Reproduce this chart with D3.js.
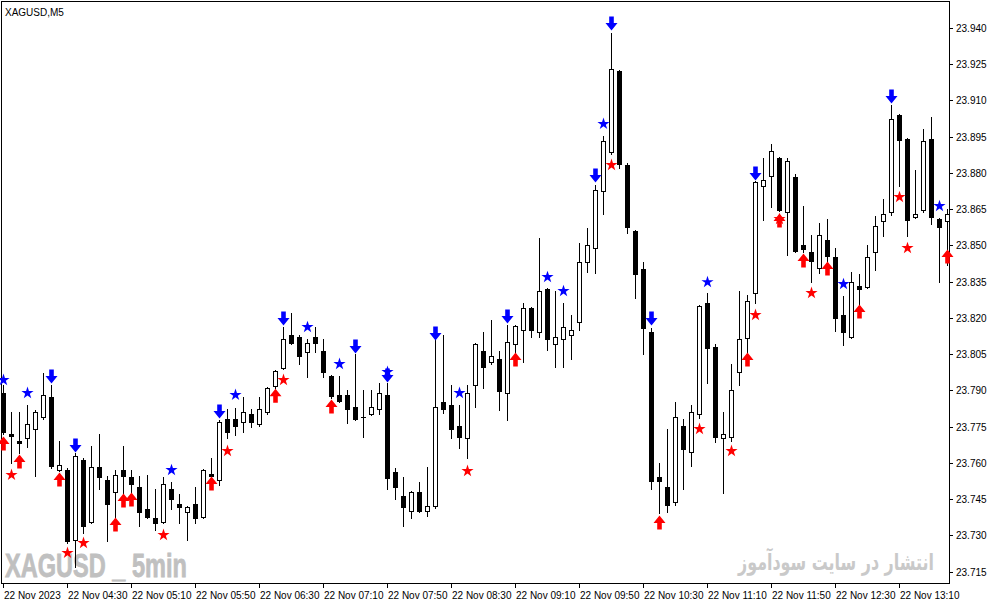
<!DOCTYPE html>
<html>
<head>
<meta charset="utf-8">
<script src="https://cdn.jsdelivr.net/npm/d3@7"></script>
<style>
  html, body { margin: 0; padding: 0; background: #fff; }
  svg { display: block; }
  text { font-family: "Liberation Sans", Arial, sans-serif; }
</style>
</head>
<body>
<div id="chart"></div>
<script>
// XAGUSD M5, 22 Nov 2023, one entry per 5-minute bar
const openP = [23.7889,23.7719,23.7690,23.7703,23.7740,23.7790,23.7872,23.7570,23.7570,23.7280,
  23.7612,23.7355,23.7583,23.7529,23.7479,23.7570,23.7541,23.7500,23.7409,23.7371,
  23.7355,23.7492,23.7429,23.7396,23.7429,23.7376,23.7554,23.7529,23.7781,23.7781,
  23.7769,23.7802,23.7761,23.7810,23.7918,23.7993,23.8129,23.8121,23.8059,23.8121,
  23.8063,23.7959,23.7881,23.7881,23.7831,23.7790,23.7802,23.7823,23.7881,23.7562,
  23.7463,23.7400,23.7479,23.7400,23.7421,23.7852,23.7839,23.7752,23.7703,23.7922,
  23.8063,23.8017,23.8030,23.7889,23.8092,23.8150,23.8241,23.8142,23.8320,23.8092,
  23.8113,23.8129,23.8183,23.8431,23.8489,23.8725,23.8887,23.9222,23.8833,23.8560,
  23.8402,23.8142,23.7541,23.7500,23.7438,23.7752,23.7645,23.7802,23.8262,23.8079,
  23.7703,23.7707,23.7976,23.8117,23.8303,23.8746,23.8787,23.8862,23.8638,23.8783,
  23.8502,23.8473,23.8406,23.8522,23.8452,23.8212,23.8121,23.8332,23.8328,23.8473,
  23.8601,23.8638,23.9040,23.8941,23.8618,23.8647,23.8941,23.8609,23.8601]
const highP = [23.7922,23.7810,23.7810,23.7839,23.7818,23.7972,23.7922,23.7690,23.7578,23.7641,
  23.7620,23.7670,23.7719,23.7545,23.7570,23.7670,23.7570,23.7545,23.7550,23.7492,
  23.7541,23.7520,23.7471,23.7420,23.7500,23.7574,23.7620,23.7777,23.7823,23.7827,
  23.7872,23.7823,23.7872,23.7914,23.7984,23.8162,23.8220,23.8129,23.8113,23.8162,
  23.8113,23.7963,23.7959,23.7901,23.8050,23.7901,23.7901,23.7930,23.7930,23.7578,
  23.7541,23.7483,23.7520,23.7583,23.8113,23.8129,23.7922,23.7839,23.7922,23.8096,
  23.8142,23.8191,23.8063,23.8170,23.8170,23.8262,23.8245,23.8531,23.8324,23.8311,
  23.8262,23.8212,23.8510,23.8572,23.8750,23.8953,23.9379,23.9226,23.8841,23.8564,
  23.8431,23.8158,23.7599,23.7740,23.7852,23.7781,23.7839,23.8253,23.8303,23.8092,
  23.7810,23.8009,23.8311,23.8294,23.8766,23.8862,23.8920,23.8866,23.8862,23.8796,
  23.8663,23.8543,23.8593,23.8609,23.8489,23.8290,23.8390,23.8382,23.8502,23.8622,
  23.8692,23.9081,23.9044,23.8945,23.8812,23.8982,23.9032,23.8614,23.8651]
const lowP = [23.7719,23.7599,23.7641,23.7665,23.7545,23.7781,23.7578,23.7566,23.7268,23.7169,
  23.7309,23.7351,23.7492,23.7276,23.7376,23.7475,23.7479,23.7338,23.7371,23.7322,
  23.7351,23.7409,23.7351,23.7280,23.7351,23.7371,23.7520,23.7508,23.7703,23.7715,
  23.7728,23.7748,23.7752,23.7802,23.7910,23.7989,23.8092,23.8009,23.7955,23.8059,
  23.7955,23.7868,23.7852,23.7765,23.7777,23.7707,23.7798,23.7802,23.7492,23.7450,
  23.7338,23.7371,23.7396,23.7380,23.7413,23.7806,23.7703,23.7661,23.7620,23.7831,
  23.7910,23.8009,23.7818,23.7777,23.8059,23.8017,23.8121,23.8121,23.8067,23.7997,
  23.7997,23.8030,23.8150,23.8390,23.8386,23.8630,23.8878,23.8820,23.8551,23.8282,
  23.8050,23.7492,23.7392,23.7396,23.7425,23.7492,23.7587,23.7785,23.7930,23.7686,
  23.7475,23.7690,23.7922,23.8059,23.8262,23.8605,23.8659,23.8643,23.8460,23.8473,
  23.8473,23.8348,23.8386,23.8436,23.8146,23.8088,23.8117,23.8253,23.8324,23.8398,
  23.8539,23.8626,23.8746,23.8539,23.8614,23.8638,23.8589,23.8348,23.8419]
const closeP = [23.7728,23.7711,23.7682,23.7761,23.7810,23.7881,23.7587,23.7591,23.7276,23.7628,
  23.7338,23.7583,23.7541,23.7429,23.7550,23.7545,23.7512,23.7396,23.7376,23.7351,
  23.7512,23.7450,23.7417,23.7417,23.7371,23.7570,23.7545,23.7769,23.7728,23.7752,
  23.7810,23.7769,23.7823,23.7910,23.7980,23.8113,23.8096,23.8042,23.8096,23.8096,
  23.7976,23.7877,23.7856,23.7823,23.7781,23.7790,23.7831,23.7889,23.7537,23.7500,
  23.7417,23.7479,23.7400,23.7421,23.7831,23.7823,23.7740,23.7707,23.7889,23.8092,
  23.7997,23.8042,23.7897,23.8100,23.8166,23.8241,23.8150,23.8311,23.8113,23.8121,
  23.8162,23.8150,23.8431,23.8502,23.8729,23.8932,23.9230,23.8837,23.8576,23.8382,
  23.8158,23.7525,23.7525,23.7425,23.7790,23.7657,23.7810,23.8249,23.8075,23.7707,
  23.7719,23.7901,23.8113,23.8270,23.8762,23.8771,23.8891,23.8647,23.8849,23.8477,
  23.8485,23.8436,23.8543,23.8456,23.8199,23.8142,23.8348,23.8320,23.8452,23.8580,
  23.8630,23.9023,23.8936,23.8605,23.8630,23.8932,23.8618,23.8576,23.8630]

// indicator signals: [bar index, price level]
const sellArrows = [[6,23.7930],[9,23.7645],[27,23.7785],[35,23.8170],[44,23.8055],[48,23.7934],
  [54,23.8108],[63,23.8179],[74,23.8762],[76,23.9392],[81,23.8170],[94,23.8771],[111,23.9090]]
const buyArrows = [[0,23.7707],[2,23.7632],[7,23.7558],[14,23.7371],[15,23.7471],[16,23.7475],
  [26,23.7541],[34,23.7905],[41,23.7860],[64,23.8055],[82,23.7380],[93,23.8055],[97,23.8630],
  [100,23.8464],[103,23.8431],[107,23.8253],[118,23.8481]]
const blueStars = [[0,23.7943],[3,23.7889],[21,23.7570],[29,23.7881],[38,23.8162],[42,23.8009],
  [48,23.7976],[57,23.7889],[68,23.8369],[70,23.8311],[75,23.9003],[88,23.8348],[105,23.8340],[117,23.8663]]
const redStars = [[1,23.7550],[8,23.7227],[10,23.7268],[20,23.7301],[28,23.7649],[35,23.7943],
  [58,23.7566],[76,23.8833],[87,23.7740],[91,23.7649],[94,23.8212],[97,23.8609],[101,23.8303],
  [112,23.8700],[113,23.8489]]

const priceTicks = [23.715,23.730,23.745,23.760,23.775,23.790,23.805,23.820,23.835,23.850,
  23.865,23.880,23.895,23.910,23.925,23.940]
const timeTickIdx = [0,8,16,24,32,40,48,56,64,72,80,88,96,104,112]
const timeTickLabels = ['22 Nov 2023','22 Nov 04:30','22 Nov 05:10','22 Nov 05:50','22 Nov 06:30',
  '22 Nov 07:10','22 Nov 07:50','22 Nov 08:30','22 Nov 09:10','22 Nov 09:50','22 Nov 10:30',
  '22 Nov 11:10','22 Nov 11:50','22 Nov 12:30','22 Nov 13:10']

const W = 991, H = 605
const plot = { left: 1, top: 1, right: 949, bottom: 583 }

const svg = d3.select('#chart').append('svg')
  .attr('width', W).attr('height', H)
  .attr('shape-rendering', 'crispEdges')

const x = d3.scaleLinear().domain([0, 118]).range([3, 947])
const y = d3.scaleLinear().domain([23.715, 23.940]).range([571.5, 28])
const py = v => Math.round(y(v))

// squeeze a text horizontally so it spans `width` px starting at x0
function squeeze(sel, x0, width) {
  const w = sel.node().getComputedTextLength()
  sel.attr('x', 0).attr('transform', `translate(${x0},0) scale(${width / w},1)`)
}

// watermarks sit under the candles
const wm1 = svg.append('text')
  .attr('y', 577)
  .attr('fill', '#c0c0c0').style('font-size', '33px').style('font-weight', 'bold')
  .attr('stroke', '#c0c0c0').attr('stroke-width', 0.8)
  .text('XAGUSD _ 5min')
squeeze(wm1, 5, 182)

const wm2 = svg.append('text')
  .attr('y', 570)
  .attr('fill', '#c9c9c9')
  .style('font-family', '"DejaVu Sans", sans-serif')
  .style('font-size', '23px').style('font-weight', 'bold')
  .text('انتشار در سایت سودآموز')
squeeze(wm2, 738, 196)

// frame
svg.append('rect')
  .attr('x', plot.left + 0.5).attr('y', plot.top + 0.5)
  .attr('width', plot.right - plot.left).attr('height', plot.bottom - plot.top)
  .attr('fill', 'none').attr('stroke', '#000')

svg.append('text').attr('x', 5).attr('y', 16)
  .attr('fill', '#000').style('font-size', '10px').text('XAGUSD,M5')

// right price axis
priceTicks.forEach(p => {
  const ty = py(p) + 0.5
  svg.append('line').attr('x1', plot.right).attr('x2', plot.right + 4)
    .attr('y1', ty).attr('y2', ty).attr('stroke', '#000')
  svg.append('text').attr('x', 956).attr('y', ty + 3.5)
    .attr('fill', '#000').style('font-size', '10px').text(p.toFixed(3))
})

// bottom time axis
timeTickIdx.forEach((idx, k) => {
  const tx = Math.round(x(idx)) + 0.5
  svg.append('line').attr('x1', tx).attr('x2', tx)
    .attr('y1', plot.bottom).attr('y2', plot.bottom + 5).attr('stroke', '#000')
  svg.append('text').attr('x', tx + 0.5).attr('y', 599)
    .attr('fill', '#000').style('font-size', '10px').text(timeTickLabels[k])
})

// candles
const bars = openP.map((o, i) => ({ i, o, h: highP[i], l: lowP[i], c: closeP[i] }))
const g = svg.append('g')

bars.forEach(b => {
  const cx = Math.round(x(b.i))
  g.append('line')
    .attr('x1', cx + 0.5).attr('x2', cx + 0.5)
    .attr('y1', py(b.h)).attr('y2', py(b.l) + 1)
    .attr('stroke', '#000')
  const top = py(Math.max(b.o, b.c))
  const bot = py(Math.min(b.o, b.c))
  if (b.c < b.o || bot - top < 2) {
    g.append('rect').attr('x', cx - 2).attr('y', top)
      .attr('width', 5).attr('height', Math.max(1, bot - top + 1))
      .attr('fill', '#000')
  } else {
    g.append('rect').attr('x', cx - 1.5).attr('y', top + 0.5)
      .attr('width', 4).attr('height', bot - top)
      .attr('fill', '#fff').attr('stroke', '#000')
  }
})

// signals
const m = svg.append('g').attr('shape-rendering', 'auto')
const downArrow = 'M-2.3,-14 L2.3,-14 L2.3,-7.5 L6,-7.5 L0,0 L-6,-7.5 L-2.3,-7.5 Z'
const upArrow = 'M-2.3,14 L2.3,14 L2.3,7.5 L6,7.5 L0,0 L-6,7.5 L-2.3,7.5 Z'
const star = d3.symbol().type(d3.symbolStar).size(46)

sellArrows.forEach(([i, p]) => {
  m.append('path').attr('d', downArrow).attr('fill', '#0000ff')
    .attr('transform', `translate(${Math.round(x(i)) + 0.5},${y(p) + 0.5})`)
})
buyArrows.forEach(([i, p]) => {
  m.append('path').attr('d', upArrow).attr('fill', '#ff0000')
    .attr('transform', `translate(${Math.round(x(i)) + 0.5},${y(p) - 0.5})`)
})
blueStars.forEach(([i, p]) => {
  m.append('path').attr('d', star()).attr('fill', '#0000ff')
    .attr('transform', `translate(${Math.round(x(i)) + 0.5},${y(p)})`)
})
redStars.forEach(([i, p]) => {
  m.append('path').attr('d', star()).attr('fill', '#ff0000')
    .attr('transform', `translate(${Math.round(x(i)) + 0.5},${y(p)})`)
})
</script>
</body>
</html>
